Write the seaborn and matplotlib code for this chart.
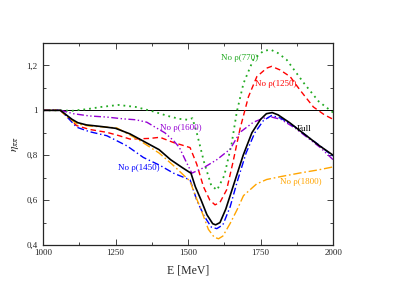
import matplotlib
matplotlib.use("Agg")
import matplotlib.pyplot as plt
from matplotlib.ticker import MultipleLocator
import seaborn as sns

# values (E in MeV, eta_pipi)
full_e = [1000, 1060, 1080, 1100, 1120, 1150, 1200, 1250, 1300, 1350, 1400, 1440, 1480, 1510,
          1525, 1545, 1565, 1585, 1595, 1610, 1630, 1660, 1690, 1720, 1750, 1770, 1790, 1810,
          1850, 1900, 1950, 2000]
full_eta = [1, 1, 0.98, 0.96, 0.945, 0.935, 0.928, 0.92, 0.895, 0.86, 0.825, 0.78, 0.745, 0.72,
            0.66, 0.6, 0.535, 0.495, 0.49, 0.5, 0.56, 0.68, 0.8, 0.9, 0.96, 0.985, 0.99, 0.98,
            0.945, 0.895, 0.845, 0.8]

no770_e = [1000, 1060, 1100, 1150, 1200, 1260, 1320, 1380, 1430, 1470, 1500, 1515, 1530, 1555,
           1580, 1600, 1625, 1650, 1668, 1691, 1725, 1760, 1785, 1810, 1840, 1900, 1950, 2000]
no770_eta = [1, 1, 0.998, 1.005, 1.015, 1.024, 1.015, 0.995, 0.975, 0.962, 0.958, 0.965, 0.9,
             0.77, 0.665, 0.645, 0.71, 0.85, 0.993, 1.12, 1.226, 1.265, 1.27, 1.255, 1.225,
             1.12, 1.04, 0.99]

no1250_e = [1000, 1060, 1080, 1116, 1160, 1220, 1260, 1300, 1369, 1403, 1449, 1480, 1507, 1530,
            1553, 1575, 1593, 1610, 1633, 1655, 1679, 1708, 1737, 1771, 1788, 1817, 1852, 1886,
            1932, 1970, 2000]
no1250_eta = [1, 1, 0.975, 0.932, 0.915, 0.902, 0.888, 0.872, 0.875, 0.88, 0.857, 0.845, 0.834,
              0.76, 0.66, 0.6, 0.579, 0.59, 0.646, 0.77, 0.917, 1.06, 1.15, 1.188, 1.196, 1.18,
              1.15, 1.09, 1.015, 0.98, 0.96]

no1600_e = [1000, 1060, 1105, 1160, 1220, 1277, 1320, 1358, 1380, 1420, 1450, 1470, 1490, 1513,
            1553, 1599, 1645, 1679, 1725, 1760, 1788, 1820, 1870, 1920, 1955, 2000]
no1600_eta = [1, 1, 0.985, 0.975, 0.97, 0.962, 0.958, 0.947, 0.93, 0.9, 0.865, 0.835, 0.78, 0.72,
              0.744, 0.78, 0.827, 0.902, 0.947, 0.965, 0.97, 0.96, 0.92, 0.87, 0.835, 0.78]

no1450_e = [1000, 1060, 1080, 1116, 1160, 1220, 1289, 1346, 1403, 1450, 1507, 1530, 1555, 1580,
            1599, 1620, 1645, 1668, 1700, 1730, 1760, 1788, 1820, 1870, 1920, 1955, 2000]
no1450_eta = [1, 1, 0.975, 0.925, 0.905, 0.887, 0.842, 0.79, 0.755, 0.72, 0.69, 0.6, 0.53, 0.48,
              0.473, 0.49, 0.57, 0.676, 0.81, 0.9, 0.955, 0.977, 0.965, 0.925, 0.875, 0.842, 0.795]

no1800_e = [1000, 1060, 1080, 1116, 1160, 1220, 1254, 1300, 1334, 1400, 1449, 1507, 1525, 1541,
            1570, 1590, 1605, 1620, 1645, 1670, 1691, 1736, 1771, 1820, 1886, 1950, 2000]
no1800_eta = [1, 1, 0.975, 0.94, 0.93, 0.925, 0.922, 0.89, 0.865, 0.81, 0.755, 0.684, 0.62, 0.571,
              0.47, 0.435, 0.428, 0.44, 0.496, 0.56, 0.62, 0.672, 0.692, 0.705, 0.721, 0.735, 0.748]

x_ticks = [1000, 1250, 1500, 1750, 2000]
x_tick_labels = ["1000", "1250", "1500", "1750", "2000"]
y_ticks = [0.4, 0.6, 0.8, 1.0, 1.2]
y_tick_labels = ["0,4", "0,6", "0,8", "1", "1,2"]

sns.set_style("ticks")
plt.rcParams['font.family'] = ['Liberation Serif', 'DejaVu Serif']
plt.rcParams['mathtext.fontset'] = 'stix'

fig = plt.figure(figsize=(3.98, 2.81), dpi=100)
ax = fig.add_axes([0.108, 0.128, 0.729, 0.719])

ax.axhline(1.0, color='black', linewidth=0.7)

series = [
    (no770_e, no770_eta, '#22aa22', (0, (1, 2.2)), 1.3),
    (no1250_e, no1250_eta, '#ff0000', (0, (4, 2.5)), 1.0),
    (no1600_e, no1600_eta, '#9400d3', (0, (5, 1.8, 1, 1.8, 1, 1.8)), 1.0),
    (no1450_e, no1450_eta, '#0000ff', (0, (5, 2, 1, 2)), 1.0),
    (no1800_e, no1800_eta, '#ffa500', (0, (6, 2, 1.2, 2)), 1.0),
    (full_e, full_eta, '#000000', '-', 1.2),
]
for xs, ys, color, ls, lw in series:
    sns.lineplot(x=xs, y=ys, ax=ax, color=color, linestyle=ls, linewidth=lw, sort=False)

label_kw = dict(fontsize=6.5, ha='left', va='center')
ax.text(1612, 1.234, "No ρ(770)", color='#22aa22', **label_kw)
ax.text(1730, 1.117, "No ρ(1250)", color='#ff0000', **label_kw)
ax.text(1403, 0.923, "No ρ(1600)", color='#9400d3', **label_kw)
ax.text(1259, 0.743, "No ρ(1450)", color='#0000ff', **label_kw)
ax.text(1873, 0.919, "Full", color='black', **label_kw)
ax.text(1817, 0.68, "No ρ(1800)", color='#ffa500', **label_kw)

ax.set_xlim(1000, 2000)
ax.set_ylim(0.4, 1.3)
ax.set_xticks(x_ticks)
ax.set_xticklabels(x_tick_labels)
ax.set_yticks(y_ticks)
ax.set_yticklabels(y_tick_labels)
ax.xaxis.set_minor_locator(MultipleLocator(125))
ax.yaxis.set_minor_locator(MultipleLocator(0.1))
ax.tick_params(which='both', direction='in', top=True, right=True, labelsize=6.5, width=0.6)
ax.tick_params(axis='x', pad=2.5)
ax.tick_params(axis='y', pad=4)
ax.tick_params(which='major', length=4)
ax.tick_params(which='minor', length=2)
for sp in ax.spines.values():
    sp.set_linewidth(0.9)

ax.set_xlabel("E [MeV]", fontsize=8.5, labelpad=6)
ax.set_ylabel(r"$\eta_{\pi\pi}$", fontsize=8.5, labelpad=4)

fig.savefig("out.png", dpi=100)
